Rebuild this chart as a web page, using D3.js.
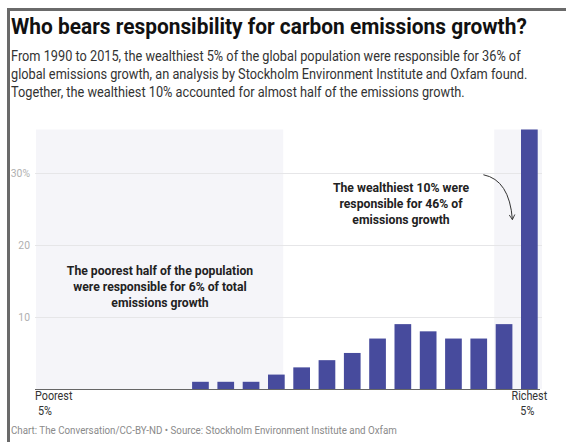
<!DOCTYPE html>
<html>
<head>
<meta charset="utf-8">
<script src="https://cdn.jsdelivr.net/npm/d3@7"></script>
<style>
  html, body { margin: 0; padding: 0; background: #fff; }
  svg { display: block; font-family: Roboto, "Liberation Sans", sans-serif; }
</style>
</head>
<body>
<div id="chart"></div>
<script>
// DATA -- SHARE OF EMISSIONS GROWTH 1990-2015 BY 5% INCOME GROUP
var groups = ["0-5", "5-10", "10-15", "15-20", "20-25", "25-30", "30-35", "35-40", "40-45", "45-50",
              "50-55", "55-60", "60-65", "65-70", "70-75", "75-80", "80-85", "85-90", "90-95", "95-100"];
var shares = [0, 0, 0, 0, 0, 0, 1, 1, 1, 2, 3, 4, 5, 7, 9, 8, 7, 7, 9, 36];
var yTicks = [10, 20, 30];
var poorHalf = groups.slice(0, 10);
var richTenth = groups.slice(18);

// SETTINGS
var settings = {
   width: 566,
   height: 442,
   left: 36, right: 542,
   top: 129.5, bottom: 389,
   bar: '#474b9d',
   shade: '#f5f5f9',
   grid: '#e6e6e8'
}

// SCALES
var xScale = d3.scaleBand()
   .domain(groups)
   .range([settings.left, settings.right])
   .paddingInner(0.34)
   .paddingOuter(0.17)

var yScale = d3.scaleLinear()
   .domain([0, 36])
   .range([settings.bottom, settings.top])

// CANVAS
var canvas = d3.select('#chart').append('svg')
   .attr('width', settings.width)
   .attr('height', settings.height)

// FRAME
canvas.append('path')
   .attr('d', 'M8.5,442 V9.5 H566')
   .attr('fill', 'none')
   .attr('stroke', '#6a6a6a')
   .attr('stroke-width', 3)

// CONDENSED TEXT HELPER (FONT IN REFERENCE IS A NARROW SANS)
function label(x, y, str, opts) {
   var g = canvas.append('g')
      .attr('transform', 'translate(' + x + ',' + y + ') scale(' + opts.k + ',1)')
   g.append('text')
      .attr('text-anchor', opts.anchor || 'start')
      .attr('font-size', opts.size)
      .attr('font-weight', opts.weight || 400)
      .attr('fill', opts.color || '#222')
      .text(str)
   return g;
}

// TITLE & SUBTITLE
label(11, 34, 'Who bears responsibility for carbon emissions growth?', { size: 22, weight: 700, color: '#111', k: 0.95 })
var sub = [
   'From 1990 to 2015, the wealthiest 5% of the global population were responsible for 36% of',
   'global emissions growth, an analysis by Stockholm Environment Institute and Oxfam found.',
   'Together, the wealthiest 10% accounted for almost half of the emissions growth.'
]
sub.forEach((s, i) => { label(11, 61 + i * 18, s, { size: 14.5, color: '#333', k: 0.88 }) })

// SHADED RANGES
var shadeX0 = xScale(poorHalf[0]) - xScale.step() * xScale.paddingOuter()
canvas.append('rect')
   .attr('x', shadeX0)
   .attr('y', yScale(36))
   .attr('width', xScale(poorHalf[poorHalf.length - 1]) + xScale.bandwidth() - 1.5 - shadeX0)
   .attr('height', yScale(0) - yScale(36))
   .attr('fill', settings.shade)

canvas.append('rect')
   .attr('x', xScale(richTenth[0]) - 1.5)
   .attr('y', yScale(36))
   .attr('width', settings.right - xScale(richTenth[0]) + 1.5)
   .attr('height', yScale(0) - yScale(36))
   .attr('fill', settings.shade)

// GRIDLINES
canvas.selectAll('line.grid')
   .data(yTicks)
      .enter().append('line')
         .attr('class', 'grid')
         .attr('x1', settings.left - 1)
         .attr('x2', settings.right)
         .attr('y1', (d) => { return Math.round(yScale(d)) + 0.5 })
         .attr('y2', (d) => { return Math.round(yScale(d)) + 0.5 })
         .attr('stroke', settings.grid)

// Y LABELS
yTicks.forEach((d) => {
   label(30, yScale(d) + 4, d === 30 ? '30%' : String(d), { size: 11.5, color: '#b0b0b0', anchor: 'end', k: 0.9 })
})

// BARS
canvas.selectAll('rect.bar')
   .data(shares)
      .enter().append('rect')
         .attr('class', 'bar')
         .attr('x', (d, i) => { return xScale(groups[i]) })
         .attr('y', (d) => { return yScale(d) })
         .attr('width', xScale.bandwidth())
         .attr('height', (d) => { return yScale(0) - yScale(d) })
         .attr('fill', settings.bar)

// BASELINE
canvas.append('line')
   .attr('x1', settings.left - 1)
   .attr('x2', settings.right - 2)
   .attr('y1', yScale(0) + 0.5)
   .attr('y2', yScale(0) + 0.5)
   .attr('stroke', '#666')
   .attr('stroke-width', 1.2)

// X END LABELS
label(35, 400, 'Poorest', { size: 12, color: '#333', k: 0.9 })
label(38, 415, '5%', { size: 12, color: '#333', k: 0.9 })
var lastX = xScale(groups[19]) + xScale.bandwidth() / 2
label(lastX, 400, 'Richest', { size: 12, color: '#333', anchor: 'middle', k: 0.9 })
label(lastX - 2, 415, '5%', { size: 12, color: '#333', anchor: 'middle', k: 0.9 })

// ANNOTATIONS
var poorNote = ['The poorest half of the population', 'were responsible for 6% of total', 'emissions growth']
poorNote.forEach((s, i) => { label(160, 275 + i * 16, s, { size: 13, weight: 700, anchor: 'middle', k: 0.94 }) })

var richNote = ['The wealthiest 10% were', 'responsible for 46% of', 'emissions growth']
richNote.forEach((s, i) => { label(401, 192 + i * 16, s, { size: 13, weight: 700, anchor: 'middle', k: 0.94 }) })

// ARROW
canvas.append('defs').append('marker')
   .attr('id', 'head')
   .attr('viewBox', '0 0 10 10')
   .attr('refX', 8).attr('refY', 5)
   .attr('markerWidth', 7).attr('markerHeight', 7)
   .attr('orient', 'auto')
   .append('path')
      .attr('d', 'M1,1 L8,5 L1,9')
      .attr('fill', 'none')
      .attr('stroke', '#333')
      .attr('stroke-width', 1.3)

var ax = xScale(groups[17])
canvas.append('path')
   .attr('d', 'M' + (ax + 13) + ',' + (yScale(30) + 2) + ' Q' + (ax + 39) + ',' + yScale(29) + ' ' + (ax + 42) + ',' + yScale(23.5))
   .attr('fill', 'none')
   .attr('stroke', '#333')
   .attr('stroke-width', 1)
   .attr('marker-end', 'url(#head)')

// FOOTER
label(11, 434, 'Chart: The Conversation/CC-BY-ND \u2022 Source: Stockholm Environment Institute and Oxfam', { size: 11.5, color: '#8a8a8a', k: 0.85 })
</script>
</body>
</html>
